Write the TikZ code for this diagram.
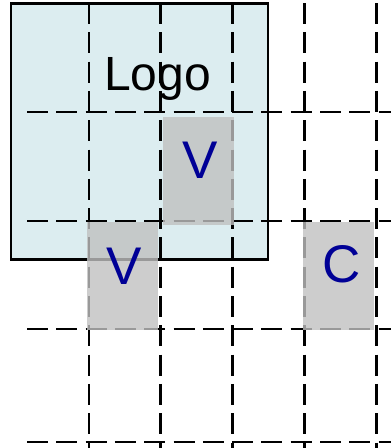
\documentclass[tikz,border=0pt]{standalone}
\usepackage{fontspec}
\setmainfont{Liberation Sans}
\definecolor{LogoCyan}{RGB}{220,237,240}
\definecolor{CeldaGris}{RGB}{192,192,192}
\definecolor{LetraAzul}{RGB}{0,0,150}
\usetikzlibrary{positioning}

\begin{document}
\begin{tikzpicture}[x=1pt, y=-1pt,
	rejilla/.style={black, line width=2.8pt, dash pattern=on 21pt off 8.3pt},
	logobox/.style={draw=black, line width=2.5pt, fill=LogoCyan, inner sep=0pt},
	celda/.style={fill=CeldaGris, fill opacity=0.8, inner sep=0pt, minimum width=71pt, minimum height=108pt},
	letra/.style={text=LetraAzul, font=\fontsize{53}{53}\selectfont, anchor=base, inner sep=0pt}]
	\useasboundingbox (0,0) rectangle (391,448);
	% caja del logo
	\node[logobox, minimum width=257pt, minimum height=256pt] (logo) at (139.5,131.5) {};
	\node[font=\fontsize{48}{48}\selectfont, anchor=base, inner sep=0pt] (logotxt) at (157.5,90.7) {Logo};
	% rejilla
	\foreach \x in {89,160.8,232.6,304.4,376.2}
		{\draw[rejilla] (\x,3) -- (\x,448);}
	\foreach \y in {112,221,329,442}
		{\draw[rejilla] (27,\y) -- (391,\y);}
	% celdas marcadas
	\node[celda] (celdaA) at (198,171.3) {};
	\node[celda] (celdaB) at (122.5,276) {};
	\node[celda] (celdaC) at (338.2,276) {};
	\node[letra] (vA) at (199.7,178.3) {V};
	\node[letra] (vB) at (123.7,284) {V};
	\node[letra] (cC) at (342,282) {C};
\end{tikzpicture}
\end{document}
